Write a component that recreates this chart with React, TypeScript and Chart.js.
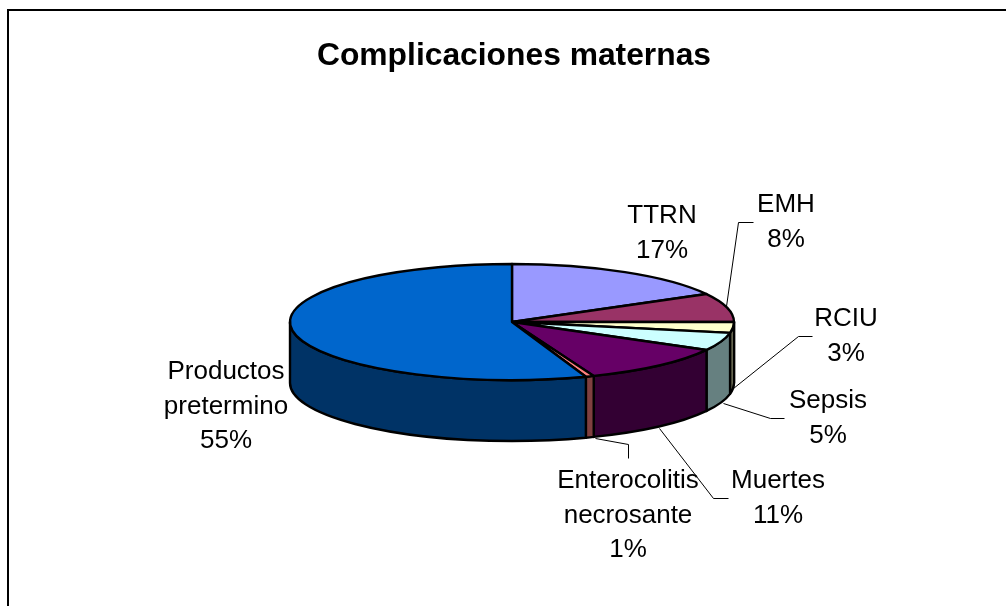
import React, { useEffect, useRef } from "react";
import { Chart, registerables } from "chart.js";

Chart.register(...registerables);

const titleText = "Complicaciones maternas";
const categories = ["TTRN", "EMH", "RCIU", "Sepsis", "Muertes", "Enterocolitis necrosante", "Productos pretermino"];
const seriesValues = [17, 8, 3, 5, 11, 0.6, 55.4];
const sliceColors = ["#9999FF", "#993366", "#FFFFCC", "#CCFFFF", "#660066", "#FF8080", "#0066CC"];
const sideColors = ["#4D4D80", "#4D1A33", "#808066", "#668080", "#330033", "#804040", "#003366"];

// Layout only: label line breaks, label centres and leader lines.
const labelLines = [["TTRN"], ["EMH"], ["RCIU"], ["Sepsis"], ["Muertes"], ["Enterocolitis", "necrosante"], ["Productos", "pretermino"]];
const labelCentreX = [662, 786, 846, 828, 778, 628, 226];
const labelFirstY = [216, 205, 319, 401, 481, 481, 372];
const leaders: number[][][] = [
  [],
  [[726, 306], [738, 222], [753, 222]],
  [[733, 388], [798, 336], [812, 336]],
  [[723, 403], [770, 418], [784, 418]],
  [[659, 428], [713, 498], [728, 498]],
  [[595, 438], [628, 444], [628, 458]],
  [],
];

const Y_SQUASH = 58 / 222;
const DEPTH = 61;
const PIE_SHIFT = -2;
const LABEL_STEP = 34.5;
const FONT = "Arial, 'Liberation Sans', sans-serif";

const pie3d = {
  id: "pie3d",
  beforeDraw(chart: any) {
    const { ctx } = chart;
    ctx.save();
    ctx.fillStyle = "#FFFFFF";
    ctx.fillRect(0, 0, chart.width, chart.height);
    ctx.strokeStyle = "#000000";
    ctx.lineWidth = 2;
    ctx.strokeRect(8, 10, 1200, 800);
    ctx.restore();
  },
  beforeDatasetsDraw(chart: any) {
    const { ctx } = chart;
    const arcs = chart.getDatasetMeta(0).data;
    ctx.save();
    ctx.translate(PIE_SHIFT, 0);
    ctx.strokeStyle = "#000000";
    ctx.lineWidth = 2.4;
    ctx.lineJoin = "round";
    const TAU = Math.PI * 2;
    // Side walls: only the part on the front half shows.
    arcs.forEach((arc: any, i: number) => {
      const { x, y, startAngle, endAngle, outerRadius } = arc.getProps(["x", "y", "startAngle", "endAngle", "outerRadius"], true);
      const rx = outerRadius;
      const ry = outerRadius * Y_SQUASH;
      for (const shift of [0, -TAU, TAU]) {
        const a = Math.max(startAngle + shift, 0);
        const b = Math.min(endAngle + shift, Math.PI);
        if (b <= a) continue;
        ctx.beginPath();
        ctx.ellipse(x, y, rx, ry, 0, a, b);
        ctx.ellipse(x, y + DEPTH, rx, ry, 0, b, a, true);
        ctx.closePath();
        ctx.fillStyle = sideColors[i];
        ctx.fill();
        ctx.stroke();
      }
    });
    // Top faces.
    arcs.forEach((arc: any, i: number) => {
      const { x, y, startAngle, endAngle, outerRadius } = arc.getProps(["x", "y", "startAngle", "endAngle", "outerRadius"], true);
      ctx.beginPath();
      ctx.moveTo(x, y);
      ctx.ellipse(x, y, outerRadius, outerRadius * Y_SQUASH, 0, startAngle, endAngle);
      ctx.closePath();
      ctx.fillStyle = sliceColors[i];
      ctx.fill();
      ctx.stroke();
    });
    ctx.restore();
    return false;
  },
  afterDraw(chart: any) {
    const { ctx } = chart;
    const total = seriesValues.reduce((s, v) => s + v, 0);
    ctx.save();
    ctx.save();
    ctx.translate(0.5, 0.5);
    ctx.strokeStyle = "#000000";
    ctx.lineWidth = 1;
    leaders.forEach((pts) => {
      if (!pts.length) return;
      ctx.beginPath();
      pts.forEach(([px, py], k) => (k ? ctx.lineTo(px, py) : ctx.moveTo(px, py)));
      ctx.stroke();
    });
    ctx.restore();
    ctx.fillStyle = "#000000";
    ctx.font = `26px ${FONT}`;
    ctx.textAlign = "center";
    ctx.textBaseline = "middle";
    categories.forEach((_, i) => {
      const lines = [...labelLines[i], `${Math.round((seriesValues[i] / total) * 100)}%`];
      lines.forEach((line, k) => ctx.fillText(line, labelCentreX[i], labelFirstY[i] + k * LABEL_STEP));
    });
    ctx.restore();
  },
};

export default function App() {
  const ref = useRef<HTMLCanvasElement>(null);
  useEffect(() => {
    document.body.style.margin = "0";
    const chart = new Chart(ref.current as HTMLCanvasElement, {
      type: "pie",
      data: {
        labels: categories,
        datasets: [{ data: seriesValues, backgroundColor: sliceColors, borderColor: "#000000", borderWidth: 0 }],
      },
      options: {
        responsive: false,
        animation: false,
        layout: { padding: { top: 0, bottom: 62, left: 292, right: 270 } },
        plugins: {
          legend: { display: false },
          tooltip: { enabled: false },
          title: {
            display: true,
            text: titleText,
            color: "#000000",
            font: { family: FONT, size: 31.8, weight: "bold", lineHeight: 1 },
            padding: { top: 40, bottom: 28.2 },
          },
        },
      },
      plugins: [pie3d],
    } as any);
    return () => chart.destroy();
  }, []);
  return <canvas ref={ref} width={1006} height={606} style={{ display: "block" }} />;
}
